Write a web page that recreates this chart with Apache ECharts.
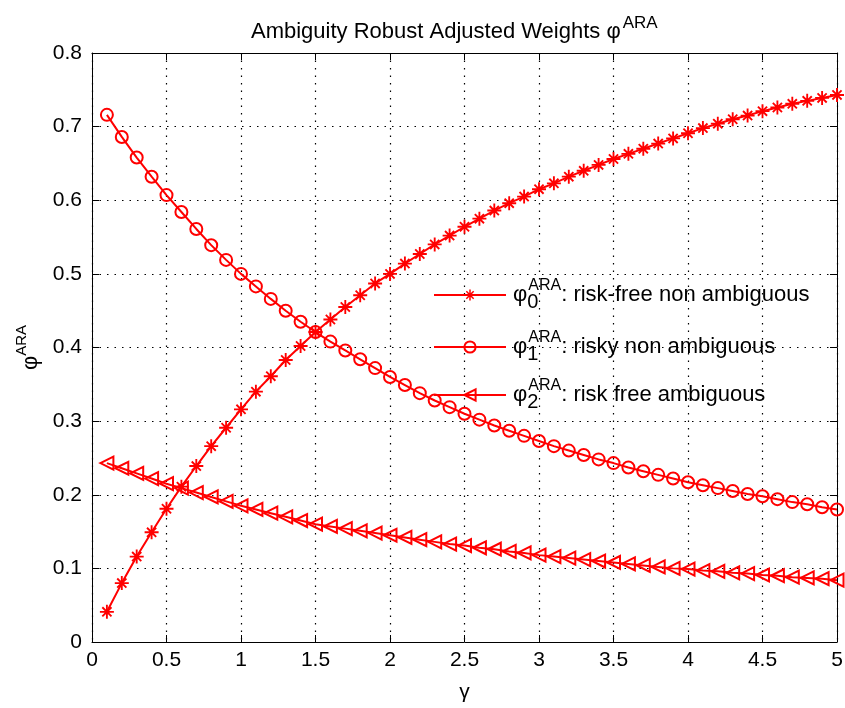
<!DOCTYPE html>
<html>
<head>
<meta charset="utf-8">
<script src="https://cdn.jsdelivr.net/npm/echarts@6/dist/echarts.min.js"></script>
<style>html,body{margin:0;padding:0;background:#fff;}#c{width:845px;height:708px;}</style>
</head>
<body>
<div id="c"></div>
<script>
const gamma = [0.1,0.2,0.3,0.4,0.5,0.6,0.7,0.8,0.9,1.0,1.1,1.2,1.3,1.4,1.5,1.6,1.7,1.8,1.9,2.0,2.1,2.2,2.3,2.4,2.5,2.6,2.7,2.8,2.9,3.0,3.1,3.2,3.3,3.4,3.5,3.6,3.7,3.8,3.9,4.0,4.1,4.2,4.3,4.4,4.5,4.6,4.7,4.8,4.9,5.0];
const phi0 = [0.041,0.080,0.116,0.149,0.181,0.211,0.239,0.266,0.291,0.316,0.340,0.361,0.383,0.402,0.421,0.438,0.455,0.471,0.487,0.500,0.514,0.527,0.540,0.552,0.564,0.575,0.586,0.596,0.605,0.615,0.623,0.632,0.640,0.648,0.656,0.663,0.670,0.677,0.684,0.691,0.698,0.704,0.710,0.715,0.721,0.726,0.731,0.735,0.739,0.743];
const phi1 = [0.716,0.686,0.658,0.632,0.607,0.584,0.561,0.539,0.519,0.500,0.483,0.466,0.450,0.435,0.421,0.408,0.396,0.384,0.372,0.360,0.349,0.338,0.328,0.319,0.310,0.302,0.294,0.287,0.280,0.273,0.266,0.260,0.254,0.248,0.243,0.237,0.232,0.227,0.222,0.217,0.213,0.209,0.205,0.201,0.198,0.194,0.190,0.187,0.183,0.180];
const phi2 = [0.243,0.236,0.229,0.222,0.215,0.209,0.203,0.197,0.191,0.185,0.180,0.175,0.170,0.165,0.160,0.157,0.154,0.151,0.148,0.145,0.142,0.139,0.136,0.133,0.131,0.128,0.126,0.123,0.121,0.118,0.116,0.114,0.112,0.110,0.108,0.106,0.104,0.102,0.100,0.099,0.097,0.096,0.094,0.093,0.091,0.090,0.088,0.087,0.086,0.084];
const seriesNames = ['phi0','phi1','phi2'];
const seriesSubs = ['0','1','2'];
const seriesLabels = [': risk-free non ambiguous', ': risky non ambiguous', ': risk free ambiguous'];
const titleMain = 'Ambiguity Robust Adjusted Weights φ';
const supText = 'ARA';
const xName = 'γ';

const FONT = 'Liberation Sans, Arial, Helvetica, sans-serif';
const RED = '#ff0000';
const starPath = 'path://M10.4 0 H13.6 V24 H10.4 Z M0 10.4 H24 V13.6 H0 Z M3 5.3 L5.3 3 L21 18.7 L18.7 21 Z M18.7 3 L21 5.3 L5.3 21 L3 18.7 Z';
const triPath = 'path://M0 12 L22 0 L22 24 Z';

const chart = echarts.init(document.getElementById('c'), null, {renderer: 'canvas'});

function pairs(ys) { return gamma.map((g, i) => [g, ys[i]]); }

const legendRich = {
  phi: {fontSize: 22, fontFamily: FONT, color: '#000', lineHeight: 34, verticalAlign: 'middle'},
  sub: {fontSize: 20, fontFamily: FONT, color: '#000', lineHeight: 14, verticalAlign: 'bottom', width: 1},
  sup: {fontSize: 16, fontFamily: FONT, color: '#000', lineHeight: 18, verticalAlign: 'top'},
  t: {fontSize: 22, fontFamily: FONT, color: '#000', lineHeight: 34, verticalAlign: 'middle'}
};

function legendFor(i, top) {
  return {
    data: [seriesNames[i]],
    left: 433, top: top,
    orient: 'vertical',
    itemWidth: 72, itemHeight: 14, padding: 0,
    formatter: () => '{phi|φ}{sub|' + seriesSubs[i] + '}{sup|' + supText + '}{t|' + seriesLabels[i] + '}',
    textStyle: {rich: legendRich, padding: [0,0,0,2]},
    selectedMode: false
  };
}

const commonLine = {
  type: 'line',
  xAxisIndex: 0, yAxisIndex: 0,
  symbolSize: 13,
  showAllSymbol: true,
  lineStyle: {color: RED, width: 2},
  emphasis: {disabled: true},
  z: 3
};

const axisFont = {fontSize: 21, fontFamily: FONT, color: '#000'};

const option = {
  animation: false,
  backgroundColor: '#fff',
  title: {
    text: '{a|' + titleMain + '}{b|' + supText + '}',
    left: 251, top: 15,
    padding: 0,
    textStyle: {
      fontWeight: 'normal',
      rich: {
        a: {fontSize: 22, fontFamily: FONT, color: '#000', lineHeight: 28, verticalAlign: 'bottom'},
        b: {fontSize: 17, fontFamily: FONT, color: '#000', lineHeight: 14, verticalAlign: 'top', padding: [0,0,0,2]}
      }
    }
  },
  grid: {left: 92, right: 8, top: 53, bottom: 66, containLabel: false, outerBoundsMode: 'none'},
  legend: [legendFor(0, 278), legendFor(1, 330), legendFor(2, 378)],
  xAxis: [{
    type: 'value', min: 0, max: 5, interval: 0.5,
    name: xName, nameLocation: 'middle', nameGap: 40,
    nameTextStyle: {fontSize: 21, fontFamily: FONT, color: '#000'},
    axisLine: {show: true, onZero: false, lineStyle: {color: '#000', width: 1}},
    axisTick: {show: true, inside: true, length: 7, lineStyle: {color: '#000'}},
    axisLabel: Object.assign({margin: 8}, axisFont),
    splitLine: {show: true, lineStyle: {color: '#000', width: 1.2, type: [1.5, 6]}}
  }, {
    type: 'value', min: 0, max: 5, interval: 0.5, position: 'top',
    axisLine: {show: true, onZero: false, lineStyle: {color: '#000', width: 1}},
    axisTick: {show: true, inside: true, length: 7, lineStyle: {color: '#000'}},
    axisLabel: {show: false}, splitLine: {show: false}
  }],
  yAxis: [{
    type: 'value', min: 0, max: 0.8, interval: 0.1,
    name: '{a|φ}{b|' + supText + '}', nameLocation: 'middle', nameGap: 50,
    nameTextStyle: {rich: {
      a: {fontSize: 22, fontFamily: FONT, color: '#000', lineHeight: 28, verticalAlign: 'bottom'},
      b: {fontSize: 15, fontFamily: FONT, color: '#000', lineHeight: 14, verticalAlign: 'top'}
    }},
    axisLine: {show: true, onZero: false, lineStyle: {color: '#000', width: 1}},
    axisTick: {show: true, inside: true, length: 7, lineStyle: {color: '#000'}},
    axisLabel: Object.assign({margin: 10}, axisFont),
    splitLine: {show: true, lineStyle: {color: '#000', width: 1.2, type: [1.5, 6]}}
  }, {
    type: 'value', min: 0, max: 0.8, interval: 0.1, position: 'right',
    axisLine: {show: true, onZero: false, lineStyle: {color: '#000', width: 1}},
    axisTick: {show: true, inside: true, length: 7, lineStyle: {color: '#000'}},
    axisLabel: {show: false}, splitLine: {show: false}
  }],
  series: [
    Object.assign({}, commonLine, {
      name: seriesNames[0], data: pairs(phi0), symbol: starPath, symbolSize: 14,
      itemStyle: {color: RED, borderWidth: 0}
    }),
    Object.assign({}, commonLine, {
      name: seriesNames[1], data: pairs(phi1), symbol: 'circle', symbolSize: 12,
      itemStyle: {color: 'rgba(255,255,255,0)', borderColor: RED, borderWidth: 2}
    }),
    Object.assign({}, commonLine, {
      name: seriesNames[2], data: pairs(phi2), symbol: triPath, symbolSize: 13,
      itemStyle: {color: 'rgba(255,255,255,0)', borderColor: RED, borderWidth: 2}
    })
  ]
};
chart.setOption(option);
</script>
</body>
</html>
